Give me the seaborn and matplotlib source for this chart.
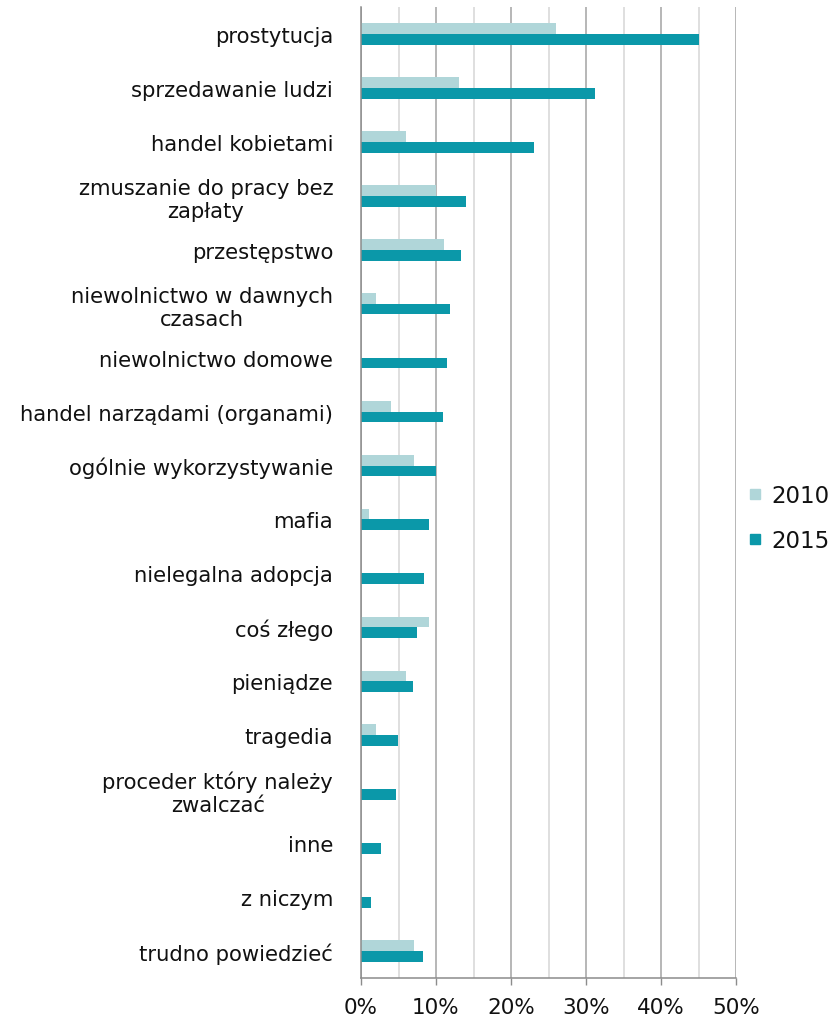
import matplotlib
matplotlib.use("Agg")
import matplotlib.pyplot as plt
from matplotlib.lines import Line2D
import seaborn as sns
import pandas as pd

categories = [
    "prostytucja",
    "sprzedawanie ludzi",
    "handel kobietami",
    "zmuszanie do pracy bez\nzapłaty",
    "przestępstwo",
    "niewolnictwo w dawnych\nczasach",
    "niewolnictwo domowe",
    "handel narządami (organami)",
    "ogólnie wykorzystywanie",
    "mafia",
    "nielegalna adopcja",
    "coś złego",
    "pieniądze",
    "tragedia",
    "proceder który należy\nzwalczać",
    "inne",
    "z niczym",
    "trudno powiedzieć",
]
values_2010 = [26, 13, 6, 10, 11, 2, 0, 4, 7, 1, 0, 9, 6, 2, 0, 0, 0, 7]
values_2015 = [45, 31.2, 23, 14, 13.3, 11.9, 11.4, 10.9, 10, 9.1, 8.4, 7.4, 6.9, 4.9, 4.7, 2.7, 1.3, 8.2]
years = ["2010", "2015"]
x_ticks = [0, 10, 20, 30, 40, 50]
x_tick_labels = ["0%", "10%", "20%", "30%", "40%", "50%"]

colors = {"2010": "#b0d6d9", "2015": "#0b98a9"}

df = pd.DataFrame({
    "kategoria": categories * 2,
    "rok": [years[0]] * len(categories) + [years[1]] * len(categories),
    "procent": values_2010 + values_2015,
})

sns.set_style("white")
plt.rcParams["font.family"] = ["DejaVu Sans"]

fig = plt.figure(figsize=(8.32, 10.2), dpi=100)
ax = fig.add_axes([361 / 832, 1 - 979 / 1020, 375 / 832, 971 / 1020])

sns.barplot(
    data=df, y="kategoria", x="procent", hue="rok", order=categories,
    hue_order=years, palette=colors, orient="h", width=0.4,
    linewidth=0, saturation=1, legend=False, ax=ax,
)

ax.set_xlim(0, 50)
ax.set_ylim(len(categories) - 0.5, -0.5)
ax.set_xticks(x_ticks)
ax.set_xticklabels(x_tick_labels, fontsize=15.5, color="#111111")
ax.set_xticks([5, 15, 25, 35, 45], minor=True)
ax.set_axisbelow(True)
ax.grid(axis="x", which="major", color="#a3a3a3", linewidth=1.1)
ax.grid(axis="x", which="minor", color="#d6d6d6", linewidth=1.1)
ax.grid(axis="y", visible=False)

ax.tick_params(axis="x", which="major", length=5, width=1, color="#8c8c8c",
               pad=9, bottom=True)
ax.tick_params(axis="x", which="minor", length=0)
ax.tick_params(axis="y", length=0, pad=20)
for lbl in ax.get_yticklabels():
    lbl.set_fontsize(15.2)
    lbl.set_color("#111111")
    lbl.set_multialignment("center")

for side in ["top", "right"]:
    ax.spines[side].set_visible(False)
for side in ["left", "bottom"]:
    ax.spines[side].set_color("#8c8c8c")
    ax.spines[side].set_linewidth(1.1)

ax.set_xlabel("")
ax.set_ylabel("")

handles = [
    Line2D([], [], marker="s", linestyle="none", markersize=6.5,
           markerfacecolor=colors[y], markeredgecolor=colors[y])
    for y in years
]
leg = fig.legend(
    handles, years, loc="center left",
    bbox_to_anchor=(748 / 832, 1 - 519 / 1020), frameon=False,
    fontsize=16.5, handlelength=0.6, handletextpad=0.4, labelspacing=0.95,
    borderaxespad=0, borderpad=0,
)
for t in leg.get_texts():
    t.set_color("#111111")

fig.savefig("out.png", dpi=100, facecolor="white")
